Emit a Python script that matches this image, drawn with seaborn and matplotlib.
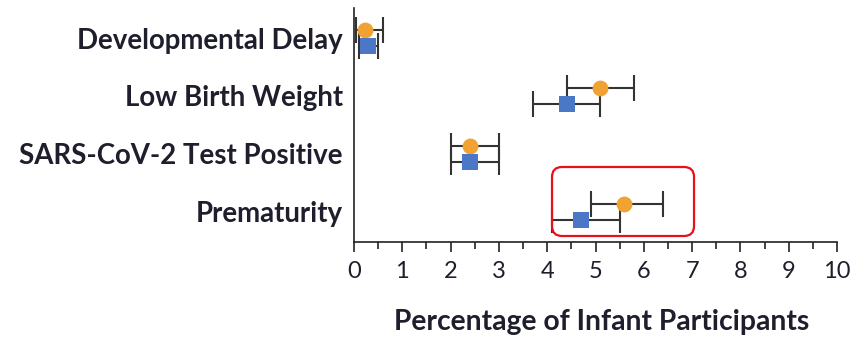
import matplotlib
matplotlib.use("Agg")
import matplotlib.pyplot as plt
from matplotlib.patches import FancyBboxPatch
from matplotlib.ticker import MultipleLocator
import numpy as np
import pandas as pd
import seaborn as sns

categories = ["Developmental Delay", "Low Birth Weight", "SARS-CoV-2 Test Positive", "Prematurity"]
orange_values = [0.22, 5.1, 2.4, 5.6]
orange_lo = [0.05, 4.4, 2.0, 4.9]
orange_hi = [0.6, 5.8, 3.0, 6.4]
blue_values = [0.3, 4.4, 2.4, 4.7]
blue_lo = [0.1, 3.7, 2.0, 4.1]
blue_hi = [0.5, 5.1, 3.0, 5.5]
x_ticks = list(range(0, 11))
x_label = "Percentage of Infant Participants"

sns.set_theme(style="white")
plt.rcParams["font.family"] = ["Lato", "DejaVu Sans"]

rows = []
for i, c in enumerate(categories):
    rows.append(dict(category=c, group="orange", pos=i - 0.14, value=orange_values[i], lo=orange_lo[i], hi=orange_hi[i]))
    rows.append(dict(category=c, group="blue", pos=i + 0.145, value=blue_values[i], lo=blue_lo[i], hi=blue_hi[i]))
df = pd.DataFrame(rows)

W, H = 855, 339
fig = plt.figure(figsize=(W / 100, H / 100), dpi=100)
fig.patch.set_facecolor("white")
ax = fig.add_axes([354 / W, 1 - 241.7 / H, 483 / W, 233.7 / H])

text_color = "#1e1e2c"
err_color = "#333333"

# error bars
for _, r in df.iterrows():
    ax.errorbar(r["value"], r["pos"], xerr=[[r["value"] - r["lo"]], [r["hi"] - r["value"]]],
                fmt="none", ecolor=err_color, elinewidth=1.5, capsize=9.5, capthick=1.5, zorder=2)

palette = {"orange": "#F0A232", "blue": "#4A78C6"}
markers = {"orange": "o", "blue": "s"}
for g in ["orange", "blue"]:
    sub = df[df["group"] == g]
    sns.scatterplot(data=sub, x="value", y="pos", color=palette[g], marker=markers[g],
                    s=130 if g == "orange" else 140, linewidth=0, ax=ax, zorder=3, legend=False)

ax.set_xlim(0, 10)
ax.set_ylim(3.52, -0.52)
ax.set_xticks(x_ticks)
ax.set_xticklabels([str(t) for t in x_ticks])
ax.xaxis.set_minor_locator(MultipleLocator(0.5))
ax.set_yticks(range(len(categories)))
ax.set_yticklabels(categories, fontsize=19.9, fontweight="bold", color=text_color)
ax.set_xlabel(x_label, fontsize=20.3, fontweight="bold", color=text_color)
ax.xaxis.set_label_coords((601.5 - 354) / 483, -(330 - 241.7) / 233.7)
ax.xaxis.label.set_va("baseline")
ax.set_ylabel("")

for s in ["top", "right"]:
    ax.spines[s].set_visible(False)
for s in ["left", "bottom"]:
    ax.spines[s].set_color("#222222")
    ax.spines[s].set_linewidth(1.2)

ax.tick_params(axis="x", which="major", direction="out", length=7, width=1.2, color="#222222",
               labelsize=17, labelcolor=text_color, pad=7, bottom=True)
ax.tick_params(axis="x", which="minor", direction="out", length=5, width=1.2, color="#222222", bottom=True)
ax.tick_params(axis="y", which="both", length=0, pad=8)

# highlight box
rad = 10 / 483
box = FancyBboxPatch((4.10 / 10, 1 - (236 - 8) / 233.7), (695 - 553) / 483, (236 - 167) / 233.7,
                     boxstyle=f"round,pad=0,rounding_size={rad}", mutation_aspect=483 / 233.7,
                     transform=ax.transAxes, fill=False, edgecolor="#E8101A", linewidth=1.6,
                     clip_on=False, zorder=4)
ax.add_patch(box)

fig.savefig("out.png", dpi=100, facecolor="white")
